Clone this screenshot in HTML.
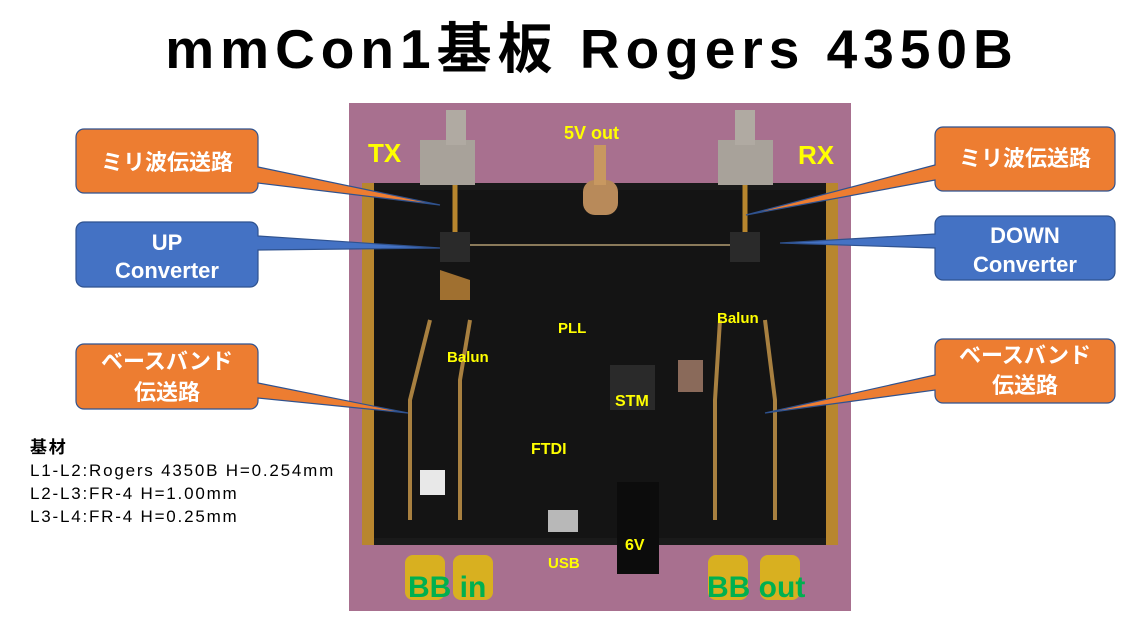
<!DOCTYPE html>
<html><head><meta charset="utf-8"><style>
body{margin:0;width:1128px;height:631px;background:#fff;overflow:hidden;font-family:"Liberation Sans","Noto Sans CJK JP",sans-serif;}
</style></head><body>
<svg width="1128" height="631" xmlns="http://www.w3.org/2000/svg" font-family="Liberation Sans, Noto Sans CJK JP, sans-serif">
<text x="592" y="68" text-anchor="middle" font-size="55" font-weight="bold" letter-spacing="6" fill="#000">mmCon1基板 Rogers 4350B</text>
<!-- photo -->
<rect x="349" y="103" width="502" height="508" fill="#a8708f"/>
<rect x="362" y="183" width="476" height="362" fill="#1a1a1a"/>
<rect x="362" y="183" width="12" height="362" fill="#b8862e"/>
<rect x="826" y="183" width="12" height="362" fill="#b8862e"/>
<rect x="374" y="190" width="452" height="348" fill="#141414"/>
<rect x="420" y="140" width="55" height="45" fill="#a8a29a"/>
<rect x="446" y="110" width="20" height="35" fill="#b0aaa2"/>
<rect x="718" y="140" width="55" height="45" fill="#a8a29a"/>
<rect x="735" y="110" width="20" height="35" fill="#b0aaa2"/>
<rect x="583" y="180" width="35" height="35" rx="12" fill="#b88a5a"/>
<rect x="594" y="145" width="12" height="40" fill="#c89860"/>
<line x1="455" y1="185" x2="455" y2="245" stroke="#b8862e" stroke-width="5"/>
<line x1="745" y1="185" x2="745" y2="245" stroke="#b8862e" stroke-width="5"/>
<line x1="470" y1="245" x2="730" y2="245" stroke="#8a7a5a" stroke-width="2"/>
<path d="M440 270 L470 280 L470 300 L440 300Z" fill="#a07030"/>
<path d="M430 320 L410 400 L410 520 M470 320 L460 380 L460 520 M720 320 L715 400 L715 520 M765 320 L775 400 L775 520" stroke="#a88040" stroke-width="4" fill="none"/>
<rect x="440" y="232" width="30" height="30" fill="#2a2a2a"/>
<rect x="730" y="232" width="30" height="30" fill="#2a2a2a"/>
<rect x="610" y="365" width="45" height="45" fill="#2a2a2a"/>
<rect x="678" y="360" width="25" height="32" fill="#8a6a5a"/>
<rect x="617" y="482" width="42" height="92" fill="#0c0c0c"/>
<rect x="548" y="510" width="30" height="22" fill="#b8b8b8"/>
<rect x="420" y="470" width="25" height="25" fill="#e8e8e8"/>
<rect x="405" y="555" width="40" height="45" rx="8" fill="#d8b020"/>
<rect x="453" y="555" width="40" height="45" rx="8" fill="#d8b020"/>
<rect x="708" y="555" width="40" height="45" rx="8" fill="#d8b020"/>
<rect x="760" y="555" width="40" height="45" rx="8" fill="#d8b020"/>
<g fill="#ffff00" font-weight="bold">
<text x="368" y="162" font-size="26">TX</text>
<text x="798" y="164" font-size="26">RX</text>
<text x="564" y="139" font-size="18">5V out</text>
<text x="558" y="333" font-size="15">PLL</text>
<text x="447" y="362" font-size="15">Balun</text>
<text x="717" y="323" font-size="15">Balun</text>
<text x="615" y="406" font-size="16">STM</text>
<text x="531" y="454" font-size="16">FTDI</text>
<text x="625" y="550" font-size="16">6V</text>
<text x="548" y="568" font-size="15">USB</text>
</g>
<g fill="#00b050" font-weight="bold" font-size="30">
<text x="408" y="597">BB in</text>
<text x="707" y="597">BB out</text>
</g>
<g stroke="#2f528f" stroke-width="1.2">
<path d="M76 137 a8 8 0 0 1 8 -8 h166 a8 8 0 0 1 8 8 v30 L440 205 L258 183 v2 a8 8 0 0 1 -8 8 h-166 a8 8 0 0 1 -8 -8Z" fill="#ed7d31"/>
<path d="M76 230 a8 8 0 0 1 8 -8 h166 a8 8 0 0 1 8 8 v6 L440 248 L258 250 v29 a8 8 0 0 1 -8 8 h-166 a8 8 0 0 1 -8 -8Z" fill="#4472c4"/>
<path d="M76 352 a8 8 0 0 1 8 -8 h166 a8 8 0 0 1 8 8 v31 L408 413 L258 398 v3 a8 8 0 0 1 -8 8 h-166 a8 8 0 0 1 -8 -8Z" fill="#ed7d31"/>
<path d="M1115 135 a8 8 0 0 0 -8 -8 h-164 a8 8 0 0 0 -8 8 v30 L746 215 L935 180 v3 a8 8 0 0 0 8 8 h164 a8 8 0 0 0 8 -8Z" fill="#ed7d31"/>
<path d="M1115 224 a8 8 0 0 0 -8 -8 h-164 a8 8 0 0 0 -8 8 v10 L780 243 L935 248 v24 a8 8 0 0 0 8 8 h164 a8 8 0 0 0 8 -8Z" fill="#4472c4"/>
<path d="M1115 347 a8 8 0 0 0 -8 -8 h-164 a8 8 0 0 0 -8 8 v28 L765 413 L935 390 v5 a8 8 0 0 0 8 8 h164 a8 8 0 0 0 8 -8Z" fill="#ed7d31"/>
</g>
<g fill="#fff" font-size="22" text-anchor="middle" font-weight="bold">
<text x="167" y="170">ミリ波伝送路</text>
<text x="167" y="250">UP</text>
<text x="167" y="278">Converter</text>
<text x="167" y="369">ベースバンド</text>
<text x="167" y="400">伝送路</text>
<text x="1025" y="166">ミリ波伝送路</text>
<text x="1025" y="243">DOWN</text>
<text x="1025" y="272">Converter</text>
<text x="1025" y="363">ベースバンド</text>
<text x="1025" y="393">伝送路</text>
</g>
<g fill="#000" font-size="17" letter-spacing="1.8">
<text x="30" y="453" font-weight="bold">基材</text>
<text x="30" y="476">L1-L2:Rogers 4350B H=0.254mm</text>
<text x="30" y="499">L2-L3:FR-4 H=1.00mm</text>
<text x="30" y="522">L3-L4:FR-4 H=0.25mm</text>
</g>
</svg>
</body></html>
